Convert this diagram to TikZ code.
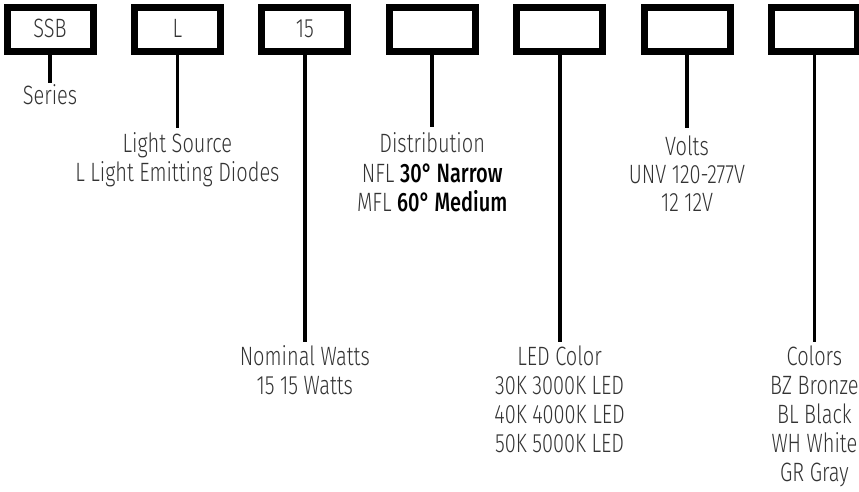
\documentclass[tikz,border=0pt]{standalone}
\usepackage{fontspec}
\setmainfont{Fira Sans}[UprightFont={* Light}, BoldFont={* Medium}, FakeStretch=0.755]
\definecolor{txtgray}{gray}{0.2}
\newcommand{\labelfont}{\fontsize{26.5}{29}\selectfont}

\begin{document}
\begin{tikzpicture}[
    x=1pt, y=-1pt,
    every node/.style={font=\labelfont, text=txtgray, inner sep=0pt},
    codebox/.style={draw=black, line width=7pt, minimum width=86pt,
        minimum height=44pt, text height=17pt, text depth=0pt},
    lead/.style={line width=3.8pt},
    lbl/.style={anchor=base},
]
\useasboundingbox (0,0) rectangle (859,492);

% === Code boxes along the top ===
\def\boxX{50}
\def\boxY{29.5}
\def\boxStep{127.4}
\foreach \code [count=\i from 0] in {SSB, L, 15, {}, {}, {}, {}} {
    \node[codebox] (box\i) at ({\boxX+\i*\boxStep},\boxY) {\code};
}

% === Leader lines (end heights differ per box) ===
\foreach \i/\yend in {0/83, 1/128, 2/342, 3/127, 4/342, 5/128, 6/342} {
    \coordinate (end\i) at ({\boxX+\i*\boxStep},\yend);
    \draw[lead] (box\i.south) -- (end\i);
}

% === Labels under each leader ===
\node[lbl] (series0) at ([yshift=-22pt]end0) {Series};

\foreach \txt [count=\k from 0] in {Light Source, L Light Emitting Diodes}
    \node[lbl] (source\k) at ([yshift={-24pt-\k*29pt}]end1) {\txt};

\foreach \txt [count=\k from 0] in {Nominal Watts, 15 15 Watts}
    \node[lbl] (watts\k) at ([yshift={-23pt-\k*29pt}]end2) {\txt};

\foreach \txt [count=\k from 0] in {Distribution,
        {NFL \textbf{\color{black}30°\,Narrow}},
        {MFL \textbf{\color{black}60°\,Medium}}}
    \node[lbl] (dist\k) at ([yshift={-26pt-\k*29pt}]end3) {\txt};

\foreach \txt [count=\k from 0] in {LED Color, 30K 3000K LED, 40K 4000K LED, 50K 5000K LED}
    \node[lbl] (led\k) at ([yshift={-23pt-\k*29pt}]end4) {\txt};

\foreach \txt [count=\k from 0] in {Volts, UNV 120-277V, 12 12V}
    \node[lbl] (volts\k) at ([yshift={-27pt-\k*28pt}]end5) {\txt};

\foreach \txt [count=\k from 0] in {Colors, BZ Bronze, BL Black, WH White, GR Gray}
    \node[lbl] (color\k) at ([yshift={-23pt-\k*29pt}]end6) {\txt};

\end{tikzpicture}
\end{document}
